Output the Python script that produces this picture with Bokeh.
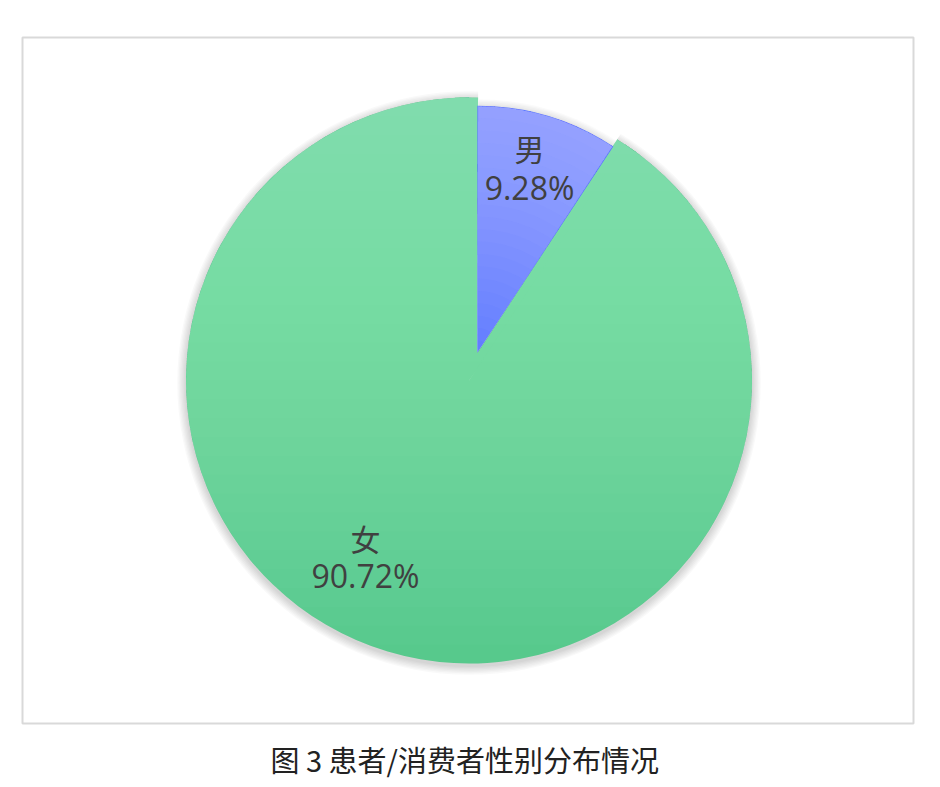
import math
import numpy as np
from bokeh.plotting import figure
from bokeh.models import Range1d
from bokeh.core.properties import value
from bokeh.embed import file_html
from bokeh.resources import INLINE

# ---------------- data ----------------
categories = ["男", "女"]
shares = [9.28, 90.72]
pct_labels = ["9.28%", "90.72%"]
caption = "图 3  患者/消费者性别分布情况"

# ---------------- layout / style ----------------
X0, X1, Y0, Y1 = 22, 913, 37, 723          # chart frame in page pixels
CX, CY = 468.5, 380.0                        # pie centre
R = 283.0                                    # pie radius
R_MALE = 247.0                               # exploded slice radius
EXPLODE = 29.0
FEMALE_BASE = "#55c88a"
FEMALE_LIGHT = "#aafdd3"
MALE_BASE = "#5f7aff"
MALE_LIGHT = "#c8d2ff"
TEXT_COLOR = "#404040"
label_anchor = [(529.0, 168.0), (365.0, 556.0)]

fracs = np.array(shares) / sum(shares)
cum = np.concatenate([[0.0], np.cumsum(fracs)])
# clockwise-from-top angles -> bokeh angles
starts = [math.pi / 2 - 2 * math.pi * cum[i] for i in range(len(shares))]
ends = [math.pi / 2 - 2 * math.pi * cum[i + 1] for i in range(len(shares))]
mid_m = math.pi * (cum[0] + cum[1])
MX = CX + EXPLODE * math.sin(mid_m)
MY = CY - EXPLODE * math.cos(mid_m)

p = figure(frame_width=X1 - X0, frame_height=Y1 - Y0,
           x_range=Range1d(X0, X1), y_range=Range1d(Y1, Y0),
           x_axis_type=None, y_axis_type=None,
           toolbar_location=None, output_backend="svg",
           min_border_left=X0, min_border_right=18,
           min_border_top=Y0, min_border_bottom=62,
           title_location="below", background_fill_color="white",
           border_fill_color="white")
p.outline_line_color = "#d9d9d9"
p.outline_line_width = 2

# soft shadow of whole pie
for k in range(7):
    p.circle(x=[CX], y=[CY + 2.5], radius=R + 1 + 1.3 * k,
             fill_color="black", fill_alpha=0.025, line_color=None)

# female slice (and the seat behind the exploded slice, overlapping to avoid seams)
p.wedge(x=[CX], y=[CY], radius=R, start_angle=starts[0] + 0.05, end_angle=ends[0] - 0.05,
        direction="clock", fill_color=FEMALE_BASE, line_color=None)
p.wedge(x=[CX], y=[CY], radius=R, start_angle=starts[1], end_angle=ends[1],
        direction="clock", fill_color=FEMALE_BASE, line_color=None)

# vertical gradient of the female disc: stacked circle segments
NG = 30
a_f = 1 - (1 - 0.57) ** (1 / NG)
for k in range(NG):
    yk = (CY - R) + 2 * R * (k + 1) / NG
    alpha = math.acos(max(-1.0, min(1.0, (CY - yk) / R)))
    phi = np.linspace(-alpha, alpha, 160)
    xs = CX + R * np.sin(phi)
    ys = CY - R * np.cos(phi)
    p.patch(x=xs, y=ys, fill_color=FEMALE_LIGHT, fill_alpha=a_f, line_color=None)

# notch for exploded slice (slightly narrower, edges hidden under the slice)
p.wedge(x=[MX], y=[MY], radius=R - 14, start_angle=starts[0] - 0.003,
        end_angle=ends[0] + 0.003, direction="clock",
        fill_color="white", line_color=None)

# male shadow + slice
for k in range(6):
    p.wedge(x=[MX], y=[MY + 1], radius=R_MALE + 1 + 1.3 * k,
            start_angle=starts[0] - 0.004, end_angle=ends[0] + 0.004, direction="clock",
            fill_color="black", fill_alpha=0.02, line_color=None)
p.wedge(x=[MX], y=[MY], radius=R_MALE, start_angle=starts[0], end_angle=ends[0],
        direction="clock", fill_color=MALE_BASE, line_color=None)

# gradient of male slice (lighter toward the rim)
N = 20
a_m = 1 - (1 - 0.545) ** (1 / N)
for k in range(N):
    p.annular_wedge(x=[MX], y=[MY], inner_radius=R_MALE * k / N, outer_radius=R_MALE - 0.5,
                    start_angle=starts[0] - 0.003, end_angle=ends[0] + 0.003, direction="clock",
                    fill_color=MALE_LIGHT, fill_alpha=a_m, line_color=None)

# labels
lx = [a[0] for a in label_anchor]
ly = [a[1] for a in label_anchor]
p.text(x=lx, y=[ly[0] - 21, ly[1] - 19], text=categories,
       text_font=value("Noto Sans CJK SC"), text_font_size="30px",
       text_color=TEXT_COLOR, text_align="center", text_baseline="middle")
p.text(x=lx, y=[v + 19 for v in ly], text=pct_labels,
       text_font=value("Open Sans"), text_font_size="32px",
       text_color=TEXT_COLOR, text_align="center", text_baseline="middle")

p.title.text = caption
p.title.align = "center"
p.title.text_font = "Noto Sans CJK SC"
p.title.text_font_size = "29px"
p.title.text_font_style = "normal"
p.title.text_color = "#222222"
p.title.standoff = 25

open("out.html", "w").write(file_html(p, INLINE))
